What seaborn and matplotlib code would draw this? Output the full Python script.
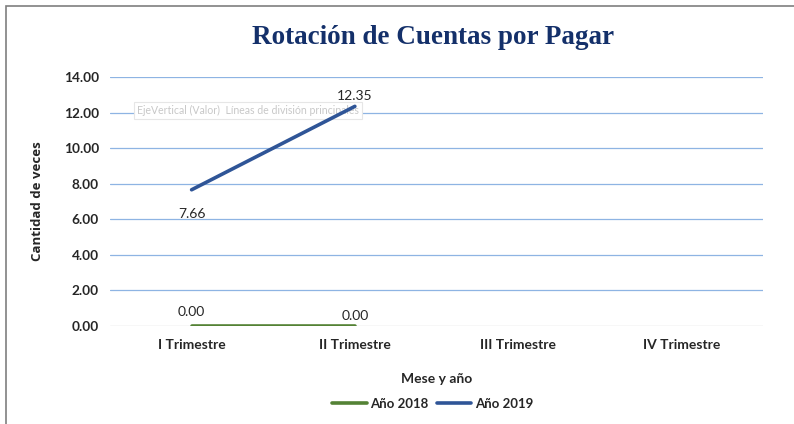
import pandas as pd
import numpy as np
import matplotlib.pyplot as plt
import seaborn as sns
from matplotlib.patches import Rectangle

sns.set_theme(style="white")
plt.rcParams['font.family'] = ['Lato', 'DejaVu Sans']

# datos
trimestres = ["I Trimestre", "II Trimestre", "III Trimestre", "IV Trimestre"]
anio_2018 = [0.00, 0.00, np.nan, np.nan]
anio_2019 = [7.66, 12.35, np.nan, np.nan]
series = ["Año 2018", "Año 2019"]
colores = ["#548235", "#2F5597"]

df = pd.DataFrame({
    "pos": list(range(len(trimestres))) * 2,
    "valor": anio_2018 + anio_2019,
    "serie": [series[0]] * 4 + [series[1]] * 4,
})

fig = plt.figure(figsize=(7.94, 4.24), dpi=100)
ax = fig.add_axes([0.1385, 0.2311, 0.8225, 0.5873])

sns.lineplot(data=df, x="pos", y="valor", hue="serie", palette=colores,
             linewidth=2.6, ax=ax, legend=False, zorder=5)

ax.set_xlim(-0.5, 3.5)
ax.set_ylim(0, 14)
ax.set_yticks(np.arange(0, 14.01, 2))
ax.set_yticklabels([f"{v:.2f}" for v in np.arange(0, 14.01, 2)],
                   fontsize=9.8, fontweight="bold", color="#262626")
ax.set_xticks(range(len(trimestres)))
ax.set_xticklabels(trimestres, fontsize=10, fontweight="bold", color="#262626")
ax.tick_params(axis="both", length=0, pad=8)
ax.tick_params(axis="x", pad=9)

for v in np.arange(2, 14.01, 2):
    ax.axhline(v, color="#8EB4E3", linewidth=0.9, zorder=0)
ax.axhline(0, color="#D9D9D9", linewidth=1.0, zorder=0)
for s in ax.spines.values():
    s.set_visible(False)

ax.set_xlabel("Mese y año", fontsize=10, fontweight="bold", color="#262626", labelpad=16)
ax.set_ylabel("Cantidad de veces", fontsize=9.5, fontweight="bold", color="#262626",
              labelpad=14, family="Open Sans")

# etiquetas de datos
offsets_2018 = [(0, 6), (0, 3)]
offsets_2019 = [(0, -22), (0, 3)]
for i, v in enumerate(anio_2018):
    if not np.isnan(v):
        ax.annotate(f"{v:.2f}", (i, v), xytext=offsets_2018[i], textcoords="offset points",
                    ha="center", va="bottom", fontsize=10, color="#262626", zorder=6)
for i, v in enumerate(anio_2019):
    if not np.isnan(v):
        ax.annotate(f"{v:.2f}", (i, v), xytext=offsets_2019[i], textcoords="offset points",
                    ha="center", va="bottom", fontsize=10, color="#262626", zorder=6)

ax.text(0.042, 0.865, "EjeVertical (Valor)  Líneas de división principales",
        transform=ax.transAxes, fontsize=7.6, color="#C8C8C8", va="center", zorder=3,
        bbox=dict(boxstyle="square,pad=0.3", fc="white", ec="#E6E6E6", lw=0.8))

fig.suptitle("Rotación de Cuentas por Pagar", x=0.545, y=0.94, fontsize=19.5,
             fontweight="bold", color="#14306A", family="Liberation Serif")

handles = [plt.Line2D([], [], color=c, linewidth=2.6) for c in colores]
leg = fig.legend(handles, series, loc="center", bbox_to_anchor=(0.545, 0.047), ncol=2,
                 frameon=False, handlelength=2.6, handletextpad=0.3, columnspacing=0.6,
                 prop={"size": 9.5, "weight": "bold"})

fig.patches.append(Rectangle((0.007, -0.01), 1.1, 0.997, transform=fig.transFigure,
                             fill=False, ec="#7F7F7F", lw=1.2))

fig.savefig("out.png", dpi=100)
